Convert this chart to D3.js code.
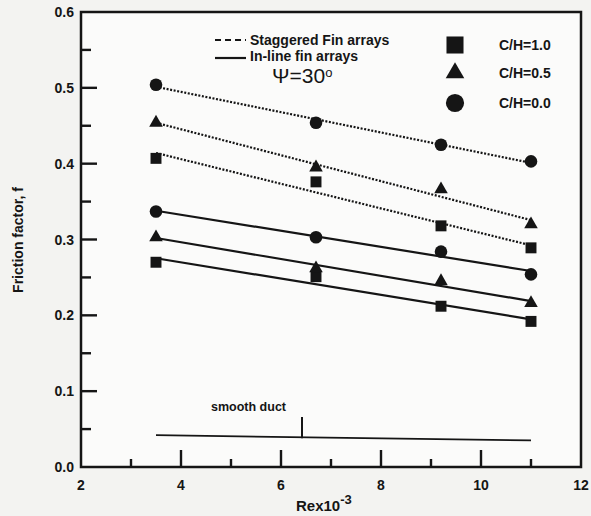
<!DOCTYPE html>
<html>
<head>
<meta charset="utf-8">
<script src="https://cdn.jsdelivr.net/npm/d3@7"></script>
<style>
body{margin:0;background:#f3f3f1;}
svg text{font-family:"Liberation Sans",Arial,sans-serif;fill:#151515;}
</style>
</head>
<body>
<div id="chart"></div>
<script>
// Re x 10^-3 positions of the measured points
var re = [3.5, 6.7, 9.2, 11.0];

// friction factor, staggered fin arrays (dotted)
var stag10 = [0.407, 0.376, 0.318, 0.289];
var stag05 = [0.454, 0.395, 0.366, 0.320];
var stag00 = [0.504, 0.454, 0.425, 0.403];
// friction factor, in-line fin arrays (solid)
var inl10 = [0.270, 0.251, 0.212, 0.192];
var inl05 = [0.303, 0.262, 0.245, 0.216];
var inl00 = [0.337, 0.303, 0.284, 0.254];

// smooth duct line
var smoothRe = [3.5, 11.0];
var smoothF = [0.042, 0.035];

var xMajor = [2, 4, 6, 8, 10, 12];
var xMinor = [3, 5, 7, 9, 11];
var yMajor = [0.0, 0.1, 0.2, 0.3, 0.4, 0.5, 0.6];
var yMinor = [0.05, 0.15, 0.25, 0.35, 0.45, 0.55];

var legendCH = ["C/H=1.0", "C/H=0.5", "C/H=0.0"];

var W = 591, H = 516;
var svg = d3.select("#chart").append("svg").attr("width", W).attr("height", H);

var x = d3.scaleLinear().domain([2, 12]).range([81, 581]);
var y = d3.scaleLinear().domain([0, 0.6]).range([467, 12]);
var ink = "#151515";

// frame
svg.append("rect").attr("x", x(2)).attr("y", y(0.6))
    .attr("width", x(12) - x(2)).attr("height", y(0) - y(0.6))
    .attr("fill", "#fbfbfa").attr("stroke", ink).attr("stroke-width", 2.5);

// ticks drawn inward from the frame
function inner(v){ return v > 0.001 && v < 0.599; }
svg.selectAll(null).data(yMajor.filter(inner)).enter().append("line")
    .attr("x1", x(2)).attr("x2", x(2) + 16).attr("y1", y).attr("y2", y)
    .attr("stroke", ink).attr("stroke-width", 2.4);
svg.selectAll(null).data(yMinor).enter().append("line")
    .attr("x1", x(2)).attr("x2", x(2) + 10).attr("y1", y).attr("y2", y)
    .attr("stroke", ink).attr("stroke-width", 2.4);
svg.selectAll(null).data(xMajor.slice(1, -1)).enter().append("line")
    .attr("x1", x).attr("x2", x).attr("y1", y(0)).attr("y2", y(0) - 17)
    .attr("stroke", ink).attr("stroke-width", 2.4);
svg.selectAll(null).data(xMinor).enter().append("line")
    .attr("x1", x).attr("x2", x).attr("y1", y(0)).attr("y2", y(0) - 8)
    .attr("stroke", ink).attr("stroke-width", 2.4);

// tick labels
svg.selectAll(null).data(yMajor).enter().append("text")
    .attr("x", x(2) - 7).attr("y", function(d){ return y(d) + 5; })
    .attr("text-anchor", "end").attr("font-size", 14).attr("font-weight", "bold")
    .text(d3.format(".1f"));
svg.selectAll(null).data(xMajor).enter().append("text")
    .attr("x", x).attr("y", y(0) + 23)
    .attr("text-anchor", "middle").attr("font-size", 14).attr("font-weight", "bold")
    .text(function(d){ return d; });

// axis titles
svg.append("text").attr("transform", "translate(23,240) rotate(-90)")
    .attr("text-anchor", "middle").attr("font-size", 14).attr("font-weight", "bold")
    .text("Friction factor, f");
var xt = svg.append("text").attr("x", 296).attr("y", 511).attr("font-size", 15).attr("font-weight", "bold");
xt.append("tspan").text("Rex10");
xt.append("tspan").attr("dy", -7).attr("font-size", 13).text("-3");

// least squares trend for each series
function fit(ys){
    var mx = d3.mean(re), my = d3.mean(ys);
    var sxy = d3.sum(re, function(v, i){ return (v - mx) * (ys[i] - my); });
    var sxx = d3.sum(re, function(v){ return (v - mx) * (v - mx); });
    var b = sxy / sxx;
    return [[re[0], my + b * (re[0] - mx)], [re[re.length - 1], my + b * (re[re.length - 1] - mx)]];
}
var line = d3.line().x(function(d){ return x(d[0]); }).y(function(d){ return y(d[1]); });

var series = [
    {v: stag10, m: "square", dash: true},
    {v: stag05, m: "triangle", dash: true},
    {v: stag00, m: "circle", dash: true},
    {v: inl10, m: "square", dash: false},
    {v: inl05, m: "triangle", dash: false},
    {v: inl00, m: "circle", dash: false}
];

series.forEach(function(s){
    svg.append("path").attr("d", line(fit(s.v))).attr("fill", "none")
        .attr("stroke", ink).attr("stroke-width", 2.2)
        .attr("stroke-dasharray", s.dash ? "2,1.6" : null);
});

var sym = {
    square: d3.symbol().type(d3.symbolSquare).size(120),
    triangle: d3.symbol().type(d3.symbolTriangle).size(80),
    circle: d3.symbol().type(d3.symbolCircle).size(125)
};
series.forEach(function(s){
    svg.selectAll(null).data(s.v).enter().append("path")
        .attr("d", sym[s.m])
        .attr("transform", function(d, i){ return "translate(" + x(re[i]) + "," + y(d) + ")"; })
        .attr("fill", ink);
});

// smooth duct
svg.append("path").attr("d", line(smoothRe.map(function(r, i){ return [r, smoothF[i]]; })))
    .attr("stroke", ink).attr("stroke-width", 1.8).attr("fill", "none");
svg.append("line").attr("x1", x(6.42)).attr("x2", x(6.42)).attr("y1", y(0.038)).attr("y2", y(0.066))
    .attr("stroke", ink).attr("stroke-width", 2);
svg.append("text").attr("x", 211).attr("y", 411).attr("font-size", 12.5).attr("font-weight", "bold")
    .text("smooth duct");

// line style legend
svg.append("line").attr("x1", 215).attr("x2", 246).attr("y1", 40).attr("y2", 40)
    .attr("stroke", ink).attr("stroke-width", 2.2).attr("stroke-dasharray", "6,4");
svg.append("text").attr("x", 250).attr("y", 45).attr("font-size", 14).attr("font-weight", "bold")
    .text("Staggered Fin arrays");
svg.append("line").attr("x1", 215).attr("x2", 246).attr("y1", 58).attr("y2", 58)
    .attr("stroke", ink).attr("stroke-width", 2.2);
svg.append("text").attr("x", 250).attr("y", 61).attr("font-size", 14).attr("font-weight", "bold")
    .text("In-line fin arrays");
var psi = svg.append("text").attr("x", 272).attr("y", 83).attr("font-size", 21)
    .attr("font-family", "Liberation Serif, serif");
psi.append("tspan").text("Ψ=30");
psi.append("tspan").attr("dy", -6).attr("font-size", 13).text("o");

// marker legend
var legSym = [
    d3.symbol().type(d3.symbolSquare).size(290),
    d3.symbol().type(d3.symbolTriangle).size(150),
    d3.symbol().type(d3.symbolCircle).size(260)
];
var legY = [45, 73, 103];
legendCH.forEach(function(t, i){
    svg.append("path").attr("d", legSym[i]).attr("transform", "translate(455," + legY[i] + ")")
        .attr("fill", ink);
    svg.append("text").attr("x", 499).attr("y", legY[i] + 5).attr("font-size", 14)
        .attr("font-weight", "bold").text(t);
});
</script>
</body>
</html>
